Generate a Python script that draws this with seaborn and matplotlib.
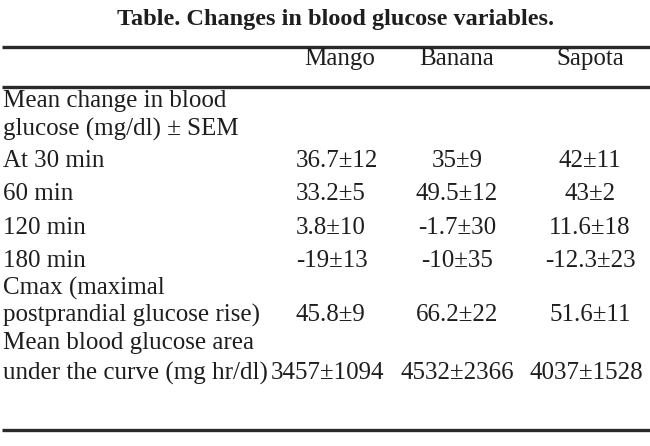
import matplotlib
matplotlib.use("Agg")
import matplotlib.pyplot as plt
import seaborn as sns

title = "Table. Changes in blood glucose variables."
columns = ["Mango", "Banana", "Sapota"]
section_label = ["Mean change in blood", "glucose (mg/dl) ± SEM"]
row_labels = ["At 30 min", "60 min", "120 min", "180 min"]
mango = ["36.7±12", "33.2±5", "3.8±10", "-19±13"]
banana = ["35±9", "49.5±12", "-1.7±30", "-10±35"]
sapota = ["42±11", "43±2", "11.6±18", "-12.3±23"]
cmax_label = ["Cmax (maximal", "postprandial glucose rise)"]
cmax_values = ["45.8±9", "66.2±22", "51.6±11"]
auc_label = ["Mean blood glucose area", "under the curve (mg hr/dl)"]
auc_values = ["3457±1094", "4532±2366", "4037±1528"]

sns.set_theme(style="white")
plt.rcParams['font.family'] = ['Liberation Serif', 'DejaVu Serif']

fig = plt.figure(figsize=(6.5, 4.46), dpi=100)
ax = fig.add_axes([0, 0, 1, 1])
ax.set_xlim(0, 650)
ax.set_ylim(446, 0)
ax.axis("off")

tc = "#1e1e1e"
fs = 18
mango_left = 296
banana_c = 457
sapota_c = 590


def values_row(y, vals, mango_x=mango_left, sap_x=sapota_c):
    ax.text(mango_x, y, vals[0], ha="left", va="center", fontsize=fs, color=tc)
    ax.text(banana_c, y, vals[1], ha="center", va="center", fontsize=fs, color=tc)
    ax.text(sap_x, y, vals[2], ha="center", va="center", fontsize=fs, color=tc)


ax.text(336, 19, title, ha="center", va="center", fontsize=17.5, fontweight="bold", color=tc)
for y in (47, 87, 430):
    ax.plot([2, 650], [y, y], color="#2a2a2a", lw=2.4, solid_capstyle="butt")

for x, c in zip([340, banana_c, sapota_c], columns):
    ax.text(x, 59, c, ha="center", va="center", fontsize=fs, color=tc)

ax.text(3, 101, section_label[0], ha="left", va="center", fontsize=fs, color=tc)
ax.text(3, 129, section_label[1], ha="left", va="center", fontsize=fs, color=tc)

row_y = [161, 194, 228, 261]
for y, lab, a, b, c in zip(row_y, row_labels, mango, banana, sapota):
    ax.text(3, y, lab, ha="left", va="center", fontsize=fs, color=tc)
    values_row(y, (a, b, c))

ax.text(3, 288, cmax_label[0], ha="left", va="center", fontsize=fs, color=tc)
ax.text(3, 315, cmax_label[1], ha="left", va="center", fontsize=fs, color=tc)
values_row(315, cmax_values)

ax.text(3, 343, auc_label[0], ha="left", va="center", fontsize=fs, color=tc)
ax.text(3, 373, auc_label[1], ha="left", va="center", fontsize=fs, color=tc)
values_row(373, auc_values, mango_x=271, sap_x=586)

fig.savefig("out.png", dpi=100, facecolor="white")
